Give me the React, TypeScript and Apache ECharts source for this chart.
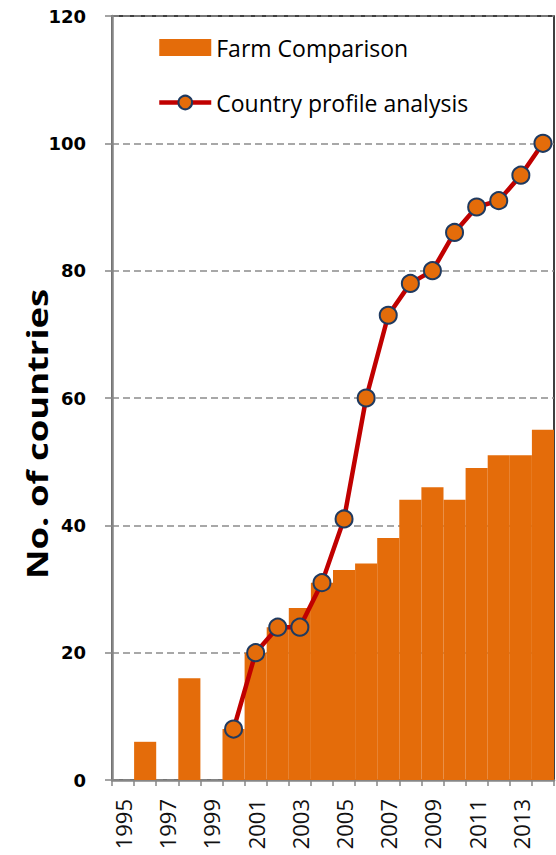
import React, { useEffect, useRef } from "react";
import * as echarts from "echarts";

const years = [
  "1995", "1996", "1997", "1998", "1999", "2000", "2001", "2002", "2003", "2004",
  "2005", "2006", "2007", "2008", "2009", "2010", "2011", "2012", "2013", "2014",
];
const farmComparison = [
  null, 6, null, 16, null, 8, 20, 24, 27, 31,
  33, 34, 38, 44, 46, 44, 49, 51, 51, 55,
];
const countryProfile = [
  null, null, null, null, null, 8, 20, 24, 24, 31,
  41, 60, 73, 78, 80, 86, 90, 91, 95, 100,
];
const yTicks = { min: 0, max: 120, interval: 20 };
const yTitle = "No. of countries";

export default function App() {
  const ref = useRef<HTMLDivElement>(null);
  useEffect(() => {
    if (!ref.current) return;
    const chart = echarts.init(ref.current, undefined, { renderer: "svg" });
    chart.setOption({
      animation: false,
      backgroundColor: "#ffffff",
      grid: {
        left: 112,
        right: 2,
        top: 16,
        bottom: 75,
        show: true,
        borderColor: "#000000",
        borderWidth: 1.5,
        backgroundColor: "transparent",
      },
      legend: {
        orient: "vertical",
        left: 152,
        top: 31,
        itemWidth: 52,
        itemHeight: 17,
        itemGap: 32,
        textStyle: { fontFamily: "Open Sans", fontSize: 23, color: "#000000" },
        data: [
          { name: "Farm Comparison", icon: "rect" },
          {
            name: "Country profile analysis",
            lineStyle: { color: "#C00000", width: 4.5 },
          },
        ],
      },
      graphic: [
        {
          type: "text",
          x: 37,
          y: 434,
          rotation: Math.PI / 2,
          scaleX: 1.3,
          style: {
            text: yTitle,
            font: 'bold 28px "Open Sans"',
            fill: "#000000",
            align: "center",
            verticalAlign: "middle",
          },
        },
      ],
      xAxis: {
        type: "category",
        data: years,
        boundaryGap: true,
        axisLine: { show: true, lineStyle: { color: "#868686", width: 2.5 } },
        axisTick: {
          show: true,
          interval: 0,
          length: 6,
          lineStyle: { color: "#868686", width: 1.5 },
        },
        axisLabel: {
          interval: 1,
          rotate: 90,
          margin: 19,
          fontFamily: "Open Sans",
          fontSize: 22,
          color: "#111111",
        },
        splitLine: { show: false },
      },
      yAxis: {
        type: "value",
        min: yTicks.min,
        max: yTicks.max,
        interval: yTicks.interval,
        axisLine: { show: true, lineStyle: { color: "#868686", width: 2.5 } },
        axisTick: { show: true, length: 7, lineStyle: { color: "#868686", width: 1.5 } },
        axisLabel: {
          margin: 26,
          fontFamily: "DejaVu Sans",
          fontWeight: "bold",
          fontSize: 18,
          color: "#000000",
        },
        splitLine: {
          show: true,
          lineStyle: { color: "#8c8c8c", width: 1.5, type: [7, 4] },
        },
      },
      series: [
        {
          name: "Farm Comparison",
          type: "bar",
          data: farmComparison,
          barCategoryGap: "0%",
          itemStyle: { color: "#E46C0A" },
        },
        {
          name: "Country profile analysis",
          type: "line",
          data: countryProfile,
          symbol: "circle",
          symbolSize: 17,
          showAllSymbol: true,
          lineStyle: { color: "#C00000", width: 4.5 },
          itemStyle: { color: "#E46C0A", borderColor: "#1F3A60", borderWidth: 2 },
          z: 5,
        },
      ],
    });
    return () => chart.dispose();
  }, []);
  return (
    <div
      ref={ref}
      style={{ position: "absolute", left: 0, top: 0, width: 556, height: 855 }}
    />
  );
}
